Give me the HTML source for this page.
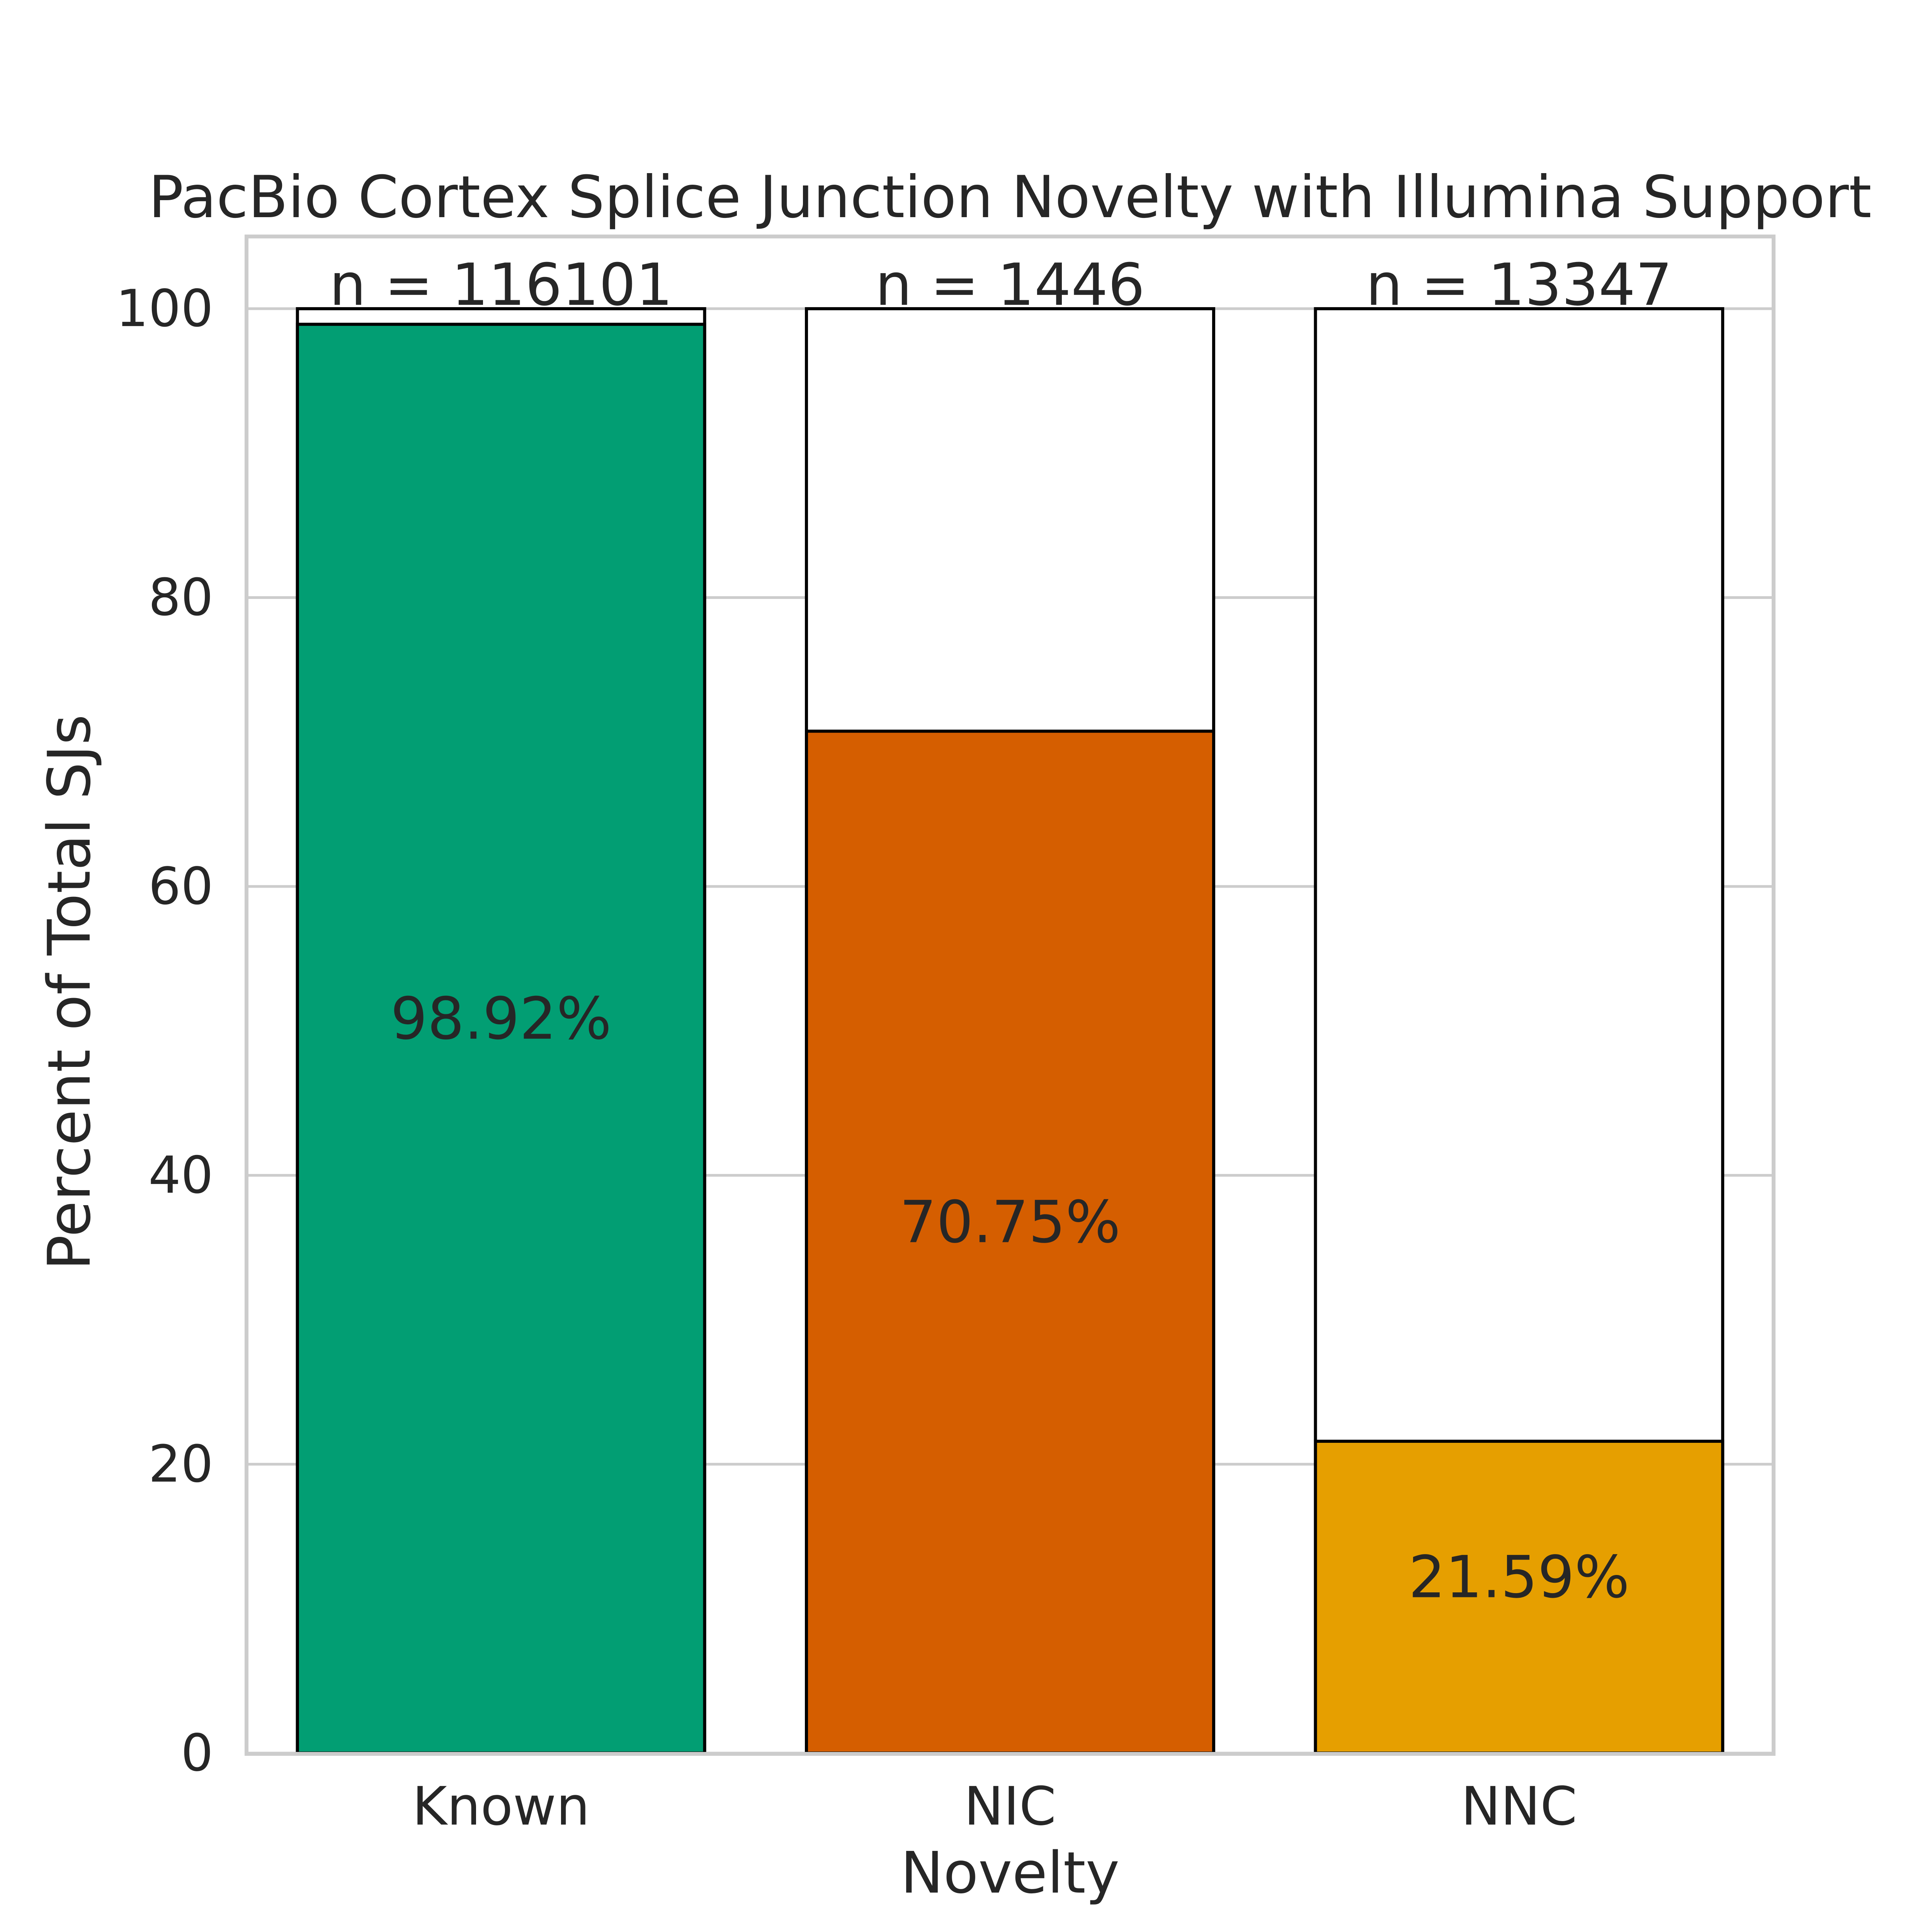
<!DOCTYPE html>
<html><head><meta charset="utf-8"><style>
html,body{margin:0;padding:0;background:#fff;width:5100px;height:5100px;overflow:hidden}
svg{display:block;position:absolute;left:0;top:0}
text{font-family:"DejaVu Sans","Liberation Sans",sans-serif;fill:#262626}
</style></head><body>
<svg id="chart" width="5100" height="5100" viewBox="0 0 5100 5100" xmlns="http://www.w3.org/2000/svg">
<rect width="5100" height="5100" fill="#fff"/>
<g id="grid"></g>
<g id="bars"></g>
<g id="labels"></g>
<rect x="638" y="612" width="3952" height="3927" fill="none" stroke="#cccccc" stroke-width="10"/>
<text x="2614" y="562" font-size="150" text-anchor="middle">PacBio Cortex Splice Junction Novelty with Illumina Support</text>
<text transform="translate(232,2568) rotate(-90)" font-size="152" text-anchor="middle">Percent of Total SJs</text>
<text x="2614" y="4898" font-size="148" text-anchor="middle">Novelty</text>
</svg>
<script>
const categories = ["Known", "NIC", "NNC"];
const supported = [98.92, 70.75, 21.59];
const counts = [116101, 1446, 13347];
const colors = ["#029e73", "#d55e00", "#e69f00"];
const yTicks = [0, 20, 40, 60, 80, 100];

const NS = "http://www.w3.org/2000/svg";
const L = 638, R = 4590, T = 612, B = 4537, YMAX = 105;
const y = v => B - v / YMAX * (B - T);
const band = (R - L) / categories.length;
const xc = i => L + band * (i + 0.5);
const bw = band * 0.8;
function mk(tag, attrs, parent, txt) {
  const e = document.createElementNS(NS, tag);
  for (const k in attrs) e.setAttribute(k, attrs[k]);
  if (txt !== undefined) e.textContent = txt;
  document.getElementById(parent).appendChild(e);
  return e;
}
yTicks.forEach(t => {
  const g = mk("line", {x1: L, x2: R, y1: y(t), y2: y(t), stroke: "#cccccc", "stroke-width": 7}, "grid");
  
  
  const tl = mk("text", {x: 552, y: y(t), "font-size": 132, "text-anchor": "end", "dominant-baseline": "central"}, "labels", String(t));
  
  
});
categories.forEach((c, i) => {
  const x0 = xc(i) - bw / 2;
  const tot = mk("rect", {x: x0, y: y(100), width: bw, height: y(0) - y(100), fill: "#fff", stroke: "#000", "stroke-width": 8}, "bars");
  
  
  const s = mk("rect", {x: x0, y: y(supported[i]), width: bw, height: y(0) - y(supported[i]), fill: colors[i], stroke: "#000", "stroke-width": 8}, "bars");
  
  
  const p = mk("text", {x: xc(i), y: y(supported[i] / 2), "font-size": 150, "text-anchor": "middle"}, "labels", supported[i].toFixed(2) + "%");
  
  
  const n = mk("text", {x: xc(i), y: y(100) - 10, "font-size": 150, "text-anchor": "middle"}, "labels", "n = " + counts[i]);
  
  
  const xl = mk("text", {x: xc(i), y: 4722, "font-size": 137, "text-anchor": "middle"}, "labels", c);
  
  
});
</script>
</body></html>
